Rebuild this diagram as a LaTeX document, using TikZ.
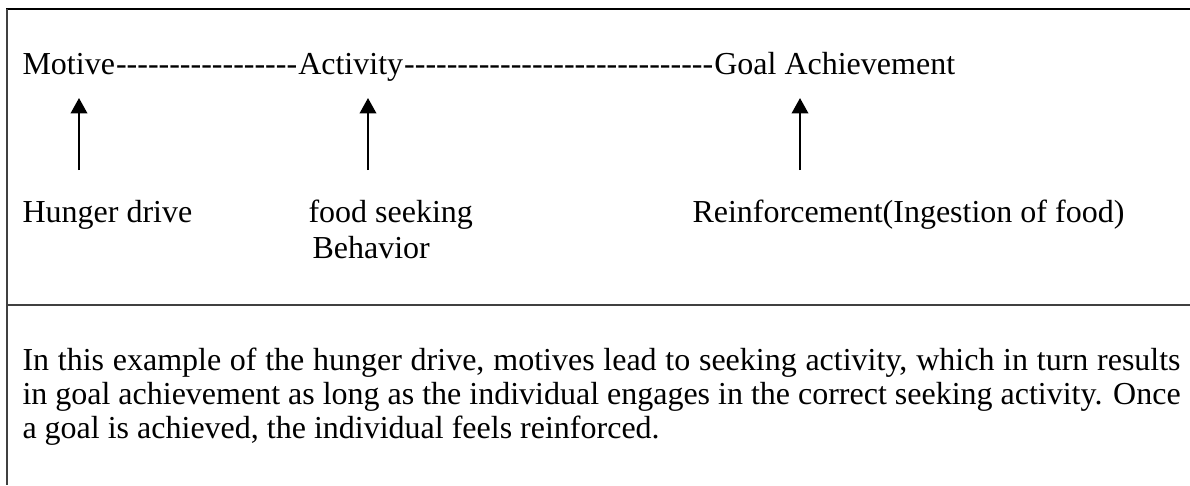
\documentclass[tikz,border=0pt]{standalone}
\usepackage{fontspec}
\setmainfont{Liberation Serif}[Ligatures=TeXOff]
\usetikzlibrary{arrows.meta,positioning}

\begin{document}
\begin{tikzpicture}[x=0.375pt,y=-0.375pt,
  font=\fontsize{12pt}{12.75pt}\selectfont,
  t/.style={inner sep=0pt,anchor=base west},
  up/.style={line width=0.8pt,-{Triangle[width=6.2pt,length=5.8pt]}},
  rule/.style={draw=black!75,line width=0.65pt}]
\useasboundingbox (0,0) rectangle (1190,485);
% table frame
\draw[line width=1.1pt] (6,9) -- (1190,9);
\draw[rule] (7,9) -- (7,485);
\draw[rule] (7,305) -- (1190,305);
% top row
\node[t] (motive) at (22,74) {Motive};
\node[t] (dash1) at (motive.base east) {-----------------};
\node[t] (activity) at (dash1.base east) {Activity};
\node[t] (dash2) at (activity.base east) {-----------------------------};
\node[t] (goal) at (dash2.base east) {Goal Achievement};
% causes
\node[t] (hunger) at (22,222) {Hunger drive};
\node[t] (food) at (308,222) {food seeking};
\node[t] (behavior) at ([xshift=1.5pt,yshift=-13.5pt]food.base west) {Behavior};
\node[t] (reinf) at (692,222) {Reinforcement(Ingestion of food)};
\foreach \n/\x in {motive/79,activity/368,goal/800}{
  \coordinate (\n-in) at (\x,170);
  \draw[up] (\n-in) -- ++(0,-72);
}
% caption
\node[t,text width=434.25pt,align=justify] (note) at (22,370)
  {In this example of the hunger drive, motives lead to seeking activity, which in turn results\linebreak
   in goal achievement as long as the individual engages in the correct seeking activity. Once\linebreak
   a goal is achieved, the individual feels reinforced.};
\end{tikzpicture}
\end{document}
